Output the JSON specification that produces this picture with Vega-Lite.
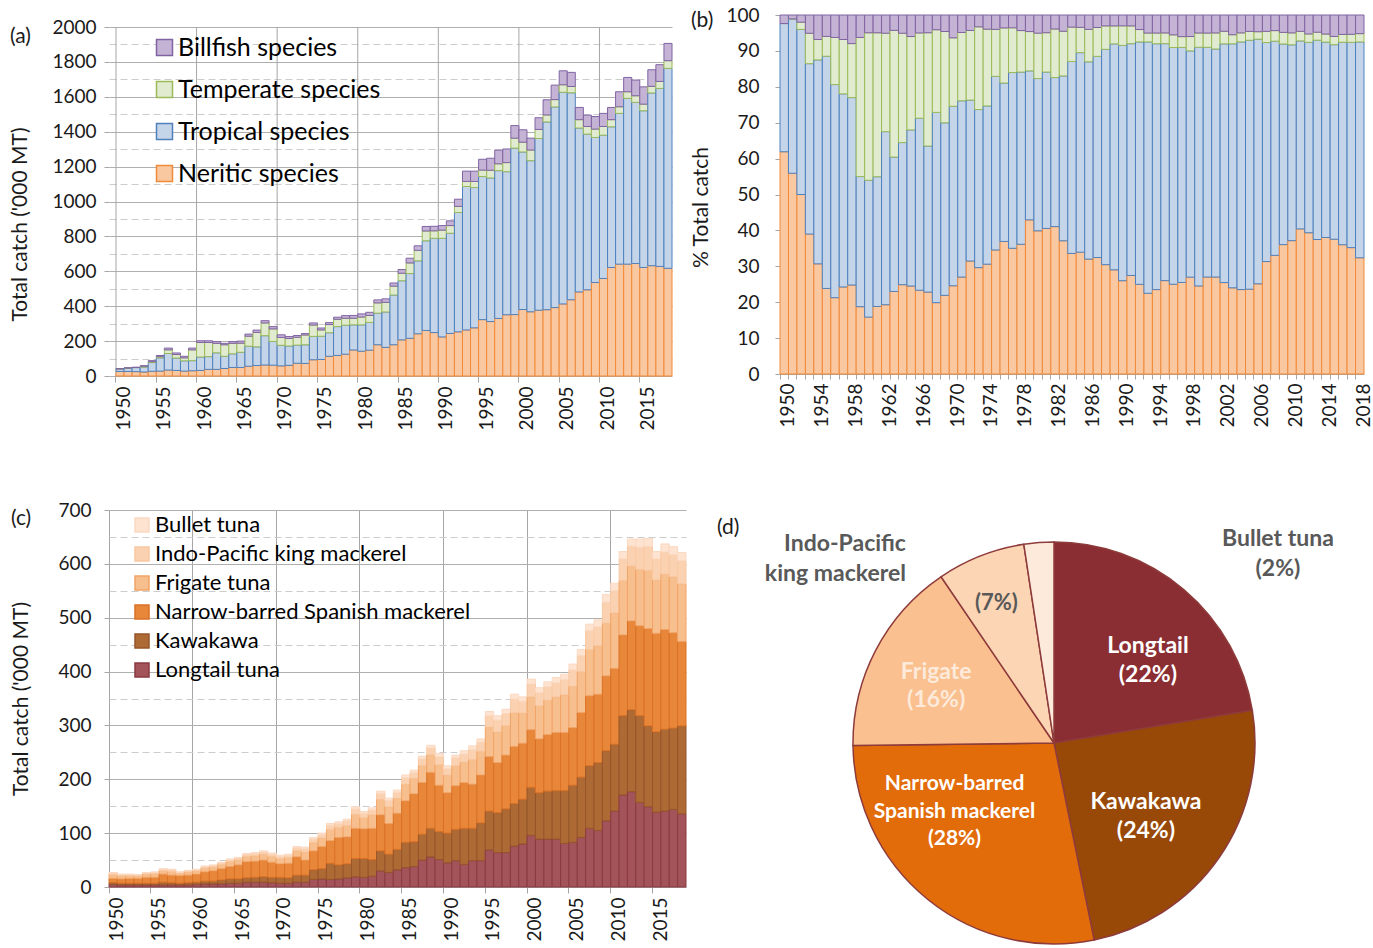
{
"$schema": "https://vega.github.io/schema/vega-lite/v6.json",
"padding": {"left": 9, "top": 6, "right": 0, "bottom": 0},
"datasets": {
"rankA": [{"species": "Neritic species", "rank": 1}, {"species": "Tropical species", "rank": 2}, {"species": "Temperate species", "rank": 3}, {"species": "Billfish species", "rank": 4}],
"rankC": [{"species": "Longtail tuna", "rank": 1}, {"species": "Kawakawa", "rank": 2}, {"species": "Narrow-barred Spanish mackerel", "rank": 3}, {"species": "Frigate tuna", "rank": 4}, {"species": "Indo-Pacific king mackerel", "rank": 5}, {"species": "Bullet tuna", "rank": 6}],
"decades": [{"year": 1950, "catch": 0, "top": 2000}, {"year": 1960, "catch": 0, "top": 2000}, {"year": 1970, "catch": 0, "top": 2000}, {"year": 1980, "catch": 0, "top": 2000}, {"year": 1990, "catch": 0, "top": 2000}, {"year": 2000, "catch": 0, "top": 2000}, {"year": 2010, "catch": 0, "top": 2000}],
"A": [
{"year":1950,"Neritic species":26,"Tropical species":15,"Temperate species":0,"Billfish species":1},
{"year":1951,"Neritic species":26,"Tropical species":20,"Temperate species":0,"Billfish species":0.5},
{"year":1952,"Neritic species":25,"Tropical species":23,"Temperate species":1,"Billfish species":1},
{"year":1953,"Neritic species":23,"Tropical species":28,"Temperate species":5,"Billfish species":3},
{"year":1954,"Neritic species":27,"Tropical species":50,"Temperate species":5,"Billfish species":6},
{"year":1955,"Neritic species":28,"Tropical species":76,"Temperate species":6.5,"Billfish species":7},
{"year":1956,"Neritic species":34,"Tropical species":95,"Temperate species":21,"Billfish species":10},
{"year":1957,"Neritic species":32,"Tropical species":71,"Temperate species":20,"Billfish species":9},
{"year":1958,"Neritic species":28,"Tropical species":59,"Temperate species":17,"Billfish species":9},
{"year":1959,"Neritic species":30,"Tropical species":58,"Temperate species":62,"Billfish species":10},
{"year":1960,"Neritic species":32,"Tropical species":77,"Temperate species":83,"Billfish species":10},
{"year":1961,"Neritic species":38,"Tropical species":73,"Temperate species":81,"Billfish species":10},
{"year":1962,"Neritic species":38,"Tropical species":95,"Temperate species":54,"Billfish species":10},
{"year":1963,"Neritic species":43,"Tropical species":70,"Temperate species":66,"Billfish species":8},
{"year":1964,"Neritic species":49,"Tropical species":78,"Temperate species":60,"Billfish species":10},
{"year":1965,"Neritic species":49,"Tropical species":87,"Temperate species":52,"Billfish species":12},
{"year":1966,"Neritic species":56,"Tropical species":115,"Temperate species":57,"Billfish species":12},
{"year":1967,"Neritic species":60,"Tropical species":107,"Temperate species":83,"Billfish species":13},
{"year":1968,"Neritic species":63,"Tropical species":168,"Temperate species":73,"Billfish species":13},
{"year":1969,"Neritic species":62,"Tropical species":136,"Temperate species":72,"Billfish species":13},
{"year":1970,"Neritic species":58,"Tropical species":118,"Temperate species":45,"Billfish species":15},
{"year":1971,"Neritic species":61,"Tropical species":111,"Temperate species":43,"Billfish species":11},
{"year":1972,"Neritic species":73,"Tropical species":104,"Temperate species":45,"Billfish species":10},
{"year":1973,"Neritic species":72,"Tropical species":107,"Temperate species":56,"Billfish species":8},
{"year":1974,"Neritic species":93,"Tropical species":134,"Temperate species":65,"Billfish species":12},
{"year":1975,"Neritic species":95,"Tropical species":133,"Temperate species":36,"Billfish species":11},
{"year":1976,"Neritic species":113,"Tropical species":135,"Temperate species":47,"Billfish species":11},
{"year":1977,"Neritic species":118,"Tropical species":165,"Temperate species":42,"Billfish species":12},
{"year":1978,"Neritic species":125,"Tropical species":166,"Temperate species":40,"Billfish species":15},
{"year":1979,"Neritic species":149,"Tropical species":144,"Temperate species":38,"Billfish species":16},
{"year":1980,"Neritic species":142,"Tropical species":151,"Temperate species":45,"Billfish species":18},
{"year":1981,"Neritic species":148,"Tropical species":159,"Temperate species":40,"Billfish species":18},
{"year":1982,"Neritic species":179,"Tropical species":181,"Temperate species":59,"Billfish species":17},
{"year":1983,"Neritic species":164,"Tropical species":203,"Temperate species":55,"Billfish species":20},
{"year":1984,"Neritic species":179,"Tropical species":285,"Temperate species":51,"Billfish species":18},
{"year":1985,"Neritic species":207,"Tropical species":339,"Temperate species":43,"Billfish species":21},
{"year":1986,"Neritic species":216,"Tropical species":371,"Temperate species":61,"Billfish species":27},
{"year":1987,"Neritic species":242,"Tropical species":418,"Temperate species":60,"Billfish species":26},
{"year":1988,"Neritic species":261,"Tropical species":514,"Temperate species":56,"Billfish species":26},
{"year":1989,"Neritic species":249,"Tropical species":540,"Temperate species":43,"Billfish species":26},
{"year":1990,"Neritic species":224,"Tropical species":565,"Temperate species":47,"Billfish species":26},
{"year":1991,"Neritic species":244,"Tropical species":574,"Temperate species":44,"Billfish species":27},
{"year":1992,"Neritic species":253,"Tropical species":684,"Temperate species":35,"Billfish species":41},
{"year":1993,"Neritic species":264,"Tropical species":822,"Temperate species":29,"Billfish species":59},
{"year":1994,"Neritic species":276,"Tropical species":804,"Temperate species":35,"Billfish species":59},
{"year":1995,"Neritic species":323,"Tropical species":820,"Temperate species":37,"Billfish species":62},
{"year":1996,"Neritic species":312,"Tropical species":823,"Temperate species":44,"Billfish species":69},
{"year":1997,"Neritic species":330,"Tropical species":847,"Temperate species":39,"Billfish species":78},
{"year":1998,"Neritic species":351,"Tropical species":820,"Temperate species":52,"Billfish species":78},
{"year":1999,"Neritic species":352,"Tropical species":954,"Temperate species":57,"Billfish species":72},
{"year":2000,"Neritic species":381,"Tropical species":903,"Temperate species":56,"Billfish species":71},
{"year":2001,"Neritic species":368,"Tropical species":866,"Temperate species":61,"Billfish species":68},
{"year":2002,"Neritic species":377,"Tropical species":984,"Temperate species":52,"Billfish species":67},
{"year":2003,"Neritic species":380,"Tropical species":1076,"Temperate species":40,"Billfish species":87},
{"year":2004,"Neritic species":392,"Tropical species":1150,"Temperate species":42,"Billfish species":83},
{"year":2005,"Neritic species":413,"Tropical species":1213,"Temperate species":43,"Billfish species":80},
{"year":2006,"Neritic species":437,"Tropical species":1186,"Temperate species":36,"Billfish species":81},
{"year":2007,"Neritic species":482,"Tropical species":939,"Temperate species":48,"Billfish species":70},
{"year":2008,"Neritic species":494,"Tropical species":892,"Temperate species":44,"Billfish species":65},
{"year":2009,"Neritic species":536,"Tropical species":831,"Temperate species":48,"Billfish species":72},
{"year":2010,"Neritic species":559,"Tropical species":821,"Temperate species":50,"Billfish species":75},
{"year":2011,"Neritic species":622,"Tropical species":806,"Temperate species":41,"Billfish species":70},
{"year":2012,"Neritic species":641,"Tropical species":864,"Temperate species":38,"Billfish species":86},
{"year":2013,"Neritic species":641,"Tropical species":950,"Temperate species":38,"Billfish species":82},
{"year":2014,"Neritic species":645,"Tropical species":923,"Temperate species":38,"Billfish species":90},
{"year":2015,"Neritic species":622,"Tropical species":898,"Temperate species":38,"Billfish species":99},
{"year":2016,"Neritic species":632,"Tropical species":990,"Temperate species":38,"Billfish species":95},
{"year":2017,"Neritic species":628,"Tropical species":1020,"Temperate species":40,"Billfish species":96},
{"year":2018,"Neritic species":617,"Tropical species":1146,"Temperate species":44,"Billfish species":99}
],
"C": [
{"year":1950,"Longtail tuna":5,"Kawakawa":3,"Narrow-barred Spanish mackerel":8,"Frigate tuna":7,"Indo-Pacific king mackerel":3,"Bullet tuna":1},
{"year":1951,"Longtail tuna":4,"Kawakawa":3,"Narrow-barred Spanish mackerel":8,"Frigate tuna":6,"Indo-Pacific king mackerel":2,"Bullet tuna":1},
{"year":1952,"Longtail tuna":4,"Kawakawa":3,"Narrow-barred Spanish mackerel":9,"Frigate tuna":5,"Indo-Pacific king mackerel":2,"Bullet tuna":1},
{"year":1953,"Longtail tuna":4,"Kawakawa":3,"Narrow-barred Spanish mackerel":9,"Frigate tuna":4.5,"Indo-Pacific king mackerel":2,"Bullet tuna":0.5},
{"year":1954,"Longtail tuna":4,"Kawakawa":3,"Narrow-barred Spanish mackerel":11,"Frigate tuna":6,"Indo-Pacific king mackerel":2,"Bullet tuna":1},
{"year":1955,"Longtail tuna":4,"Kawakawa":3,"Narrow-barred Spanish mackerel":11,"Frigate tuna":6.5,"Indo-Pacific king mackerel":2.5,"Bullet tuna":1},
{"year":1956,"Longtail tuna":4,"Kawakawa":5,"Narrow-barred Spanish mackerel":15,"Frigate tuna":6.5,"Indo-Pacific king mackerel":2.5,"Bullet tuna":1},
{"year":1957,"Longtail tuna":4,"Kawakawa":4,"Narrow-barred Spanish mackerel":14,"Frigate tuna":7,"Indo-Pacific king mackerel":3,"Bullet tuna":1},
{"year":1958,"Longtail tuna":4,"Kawakawa":3,"Narrow-barred Spanish mackerel":14,"Frigate tuna":4.5,"Indo-Pacific king mackerel":2,"Bullet tuna":0.5},
{"year":1959,"Longtail tuna":4,"Kawakawa":4,"Narrow-barred Spanish mackerel":14,"Frigate tuna":6,"Indo-Pacific king mackerel":2,"Bullet tuna":1},
{"year":1960,"Longtail tuna":5,"Kawakawa":4,"Narrow-barred Spanish mackerel":15,"Frigate tuna":6,"Indo-Pacific king mackerel":2,"Bullet tuna":1},
{"year":1961,"Longtail tuna":6,"Kawakawa":5,"Narrow-barred Spanish mackerel":17,"Frigate tuna":7,"Indo-Pacific king mackerel":3,"Bullet tuna":1},
{"year":1962,"Longtail tuna":6,"Kawakawa":5,"Narrow-barred Spanish mackerel":19,"Frigate tuna":7,"Indo-Pacific king mackerel":3,"Bullet tuna":1},
{"year":1963,"Longtail tuna":6,"Kawakawa":7,"Narrow-barred Spanish mackerel":21,"Frigate tuna":8,"Indo-Pacific king mackerel":3,"Bullet tuna":1},
{"year":1964,"Longtail tuna":7,"Kawakawa":8,"Narrow-barred Spanish mackerel":23,"Frigate tuna":9,"Indo-Pacific king mackerel":4,"Bullet tuna":1},
{"year":1965,"Longtail tuna":7,"Kawakawa":8,"Narrow-barred Spanish mackerel":26,"Frigate tuna":9,"Indo-Pacific king mackerel":4,"Bullet tuna":1},
{"year":1966,"Longtail tuna":9,"Kawakawa":8,"Narrow-barred Spanish mackerel":30,"Frigate tuna":10,"Indo-Pacific king mackerel":4,"Bullet tuna":1},
{"year":1967,"Longtail tuna":9,"Kawakawa":9,"Narrow-barred Spanish mackerel":30,"Frigate tuna":10,"Indo-Pacific king mackerel":4,"Bullet tuna":2},
{"year":1968,"Longtail tuna":9,"Kawakawa":10,"Narrow-barred Spanish mackerel":31,"Frigate tuna":11,"Indo-Pacific king mackerel":4,"Bullet tuna":2},
{"year":1969,"Longtail tuna":8,"Kawakawa":10,"Narrow-barred Spanish mackerel":28,"Frigate tuna":11,"Indo-Pacific king mackerel":4,"Bullet tuna":2},
{"year":1970,"Longtail tuna":7,"Kawakawa":11,"Narrow-barred Spanish mackerel":25,"Frigate tuna":10,"Indo-Pacific king mackerel":4,"Bullet tuna":2},
{"year":1971,"Longtail tuna":7,"Kawakawa":10,"Narrow-barred Spanish mackerel":27,"Frigate tuna":11,"Indo-Pacific king mackerel":4,"Bullet tuna":2},
{"year":1972,"Longtail tuna":9,"Kawakawa":13,"Narrow-barred Spanish mackerel":34,"Frigate tuna":12,"Indo-Pacific king mackerel":5,"Bullet tuna":2},
{"year":1973,"Longtail tuna":9,"Kawakawa":13,"Narrow-barred Spanish mackerel":28,"Frigate tuna":15,"Indo-Pacific king mackerel":6,"Bullet tuna":3},
{"year":1974,"Longtail tuna":14,"Kawakawa":18,"Narrow-barred Spanish mackerel":35,"Frigate tuna":16,"Indo-Pacific king mackerel":6,"Bullet tuna":3},
{"year":1975,"Longtail tuna":15,"Kawakawa":19,"Narrow-barred Spanish mackerel":41,"Frigate tuna":16,"Indo-Pacific king mackerel":6,"Bullet tuna":3},
{"year":1976,"Longtail tuna":14,"Kawakawa":30,"Narrow-barred Spanish mackerel":42,"Frigate tuna":21,"Indo-Pacific king mackerel":8,"Bullet tuna":3},
{"year":1977,"Longtail tuna":15,"Kawakawa":26,"Narrow-barred Spanish mackerel":51,"Frigate tuna":19,"Indo-Pacific king mackerel":7,"Bullet tuna":3},
{"year":1978,"Longtail tuna":17,"Kawakawa":26,"Narrow-barred Spanish mackerel":50,"Frigate tuna":21,"Indo-Pacific king mackerel":9,"Bullet tuna":3},
{"year":1979,"Longtail tuna":19,"Kawakawa":34,"Narrow-barred Spanish mackerel":56,"Frigate tuna":26,"Indo-Pacific king mackerel":10,"Bullet tuna":4},
{"year":1980,"Longtail tuna":18,"Kawakawa":35,"Narrow-barred Spanish mackerel":55,"Frigate tuna":21,"Indo-Pacific king mackerel":8,"Bullet tuna":3},
{"year":1981,"Longtail tuna":20,"Kawakawa":31,"Narrow-barred Spanish mackerel":58,"Frigate tuna":25,"Indo-Pacific king mackerel":9,"Bullet tuna":4},
{"year":1982,"Longtail tuna":30,"Kawakawa":37,"Narrow-barred Spanish mackerel":67,"Frigate tuna":29,"Indo-Pacific king mackerel":11,"Bullet tuna":4},
{"year":1983,"Longtail tuna":27,"Kawakawa":34,"Narrow-barred Spanish mackerel":57,"Frigate tuna":31,"Indo-Pacific king mackerel":12,"Bullet tuna":4},
{"year":1984,"Longtail tuna":32,"Kawakawa":38,"Narrow-barred Spanish mackerel":67,"Frigate tuna":28,"Indo-Pacific king mackerel":11,"Bullet tuna":4},
{"year":1985,"Longtail tuna":36,"Kawakawa":47,"Narrow-barred Spanish mackerel":77,"Frigate tuna":31,"Indo-Pacific king mackerel":12,"Bullet tuna":5},
{"year":1986,"Longtail tuna":38,"Kawakawa":46,"Narrow-barred Spanish mackerel":89,"Frigate tuna":29,"Indo-Pacific king mackerel":11,"Bullet tuna":4},
{"year":1987,"Longtail tuna":50,"Kawakawa":48,"Narrow-barred Spanish mackerel":96,"Frigate tuna":32,"Indo-Pacific king mackerel":12,"Bullet tuna":5},
{"year":1988,"Longtail tuna":56,"Kawakawa":53,"Narrow-barred Spanish mackerel":104,"Frigate tuna":33,"Indo-Pacific king mackerel":12,"Bullet tuna":5},
{"year":1989,"Longtail tuna":51,"Kawakawa":52,"Narrow-barred Spanish mackerel":86,"Frigate tuna":38,"Indo-Pacific king mackerel":15,"Bullet tuna":6},
{"year":1990,"Longtail tuna":45,"Kawakawa":55,"Narrow-barred Spanish mackerel":75,"Frigate tuna":33,"Indo-Pacific king mackerel":12,"Bullet tuna":5},
{"year":1991,"Longtail tuna":49,"Kawakawa":58,"Narrow-barred Spanish mackerel":81,"Frigate tuna":37,"Indo-Pacific king mackerel":15,"Bullet tuna":5},
{"year":1992,"Longtail tuna":42,"Kawakawa":67,"Narrow-barred Spanish mackerel":85,"Frigate tuna":38,"Indo-Pacific king mackerel":15,"Bullet tuna":6},
{"year":1993,"Longtail tuna":49,"Kawakawa":60,"Narrow-barred Spanish mackerel":82,"Frigate tuna":46,"Indo-Pacific king mackerel":18,"Bullet tuna":7},
{"year":1994,"Longtail tuna":49,"Kawakawa":70,"Narrow-barred Spanish mackerel":89,"Frigate tuna":44,"Indo-Pacific king mackerel":17,"Bullet tuna":6},
{"year":1995,"Longtail tuna":69,"Kawakawa":72,"Narrow-barred Spanish mackerel":101,"Frigate tuna":55,"Indo-Pacific king mackerel":21,"Bullet tuna":8},
{"year":1996,"Longtail tuna":64,"Kawakawa":74,"Narrow-barred Spanish mackerel":93,"Frigate tuna":57,"Indo-Pacific king mackerel":22,"Bullet tuna":8},
{"year":1997,"Longtail tuna":64,"Kawakawa":81,"Narrow-barred Spanish mackerel":100,"Frigate tuna":55,"Indo-Pacific king mackerel":22,"Bullet tuna":8},
{"year":1998,"Longtail tuna":76,"Kawakawa":79,"Narrow-barred Spanish mackerel":106,"Frigate tuna":63,"Indo-Pacific king mackerel":25,"Bullet tuna":9},
{"year":1999,"Longtail tuna":80,"Kawakawa":83,"Narrow-barred Spanish mackerel":104,"Frigate tuna":56,"Indo-Pacific king mackerel":22,"Bullet tuna":8},
{"year":2000,"Longtail tuna":96,"Kawakawa":89,"Narrow-barred Spanish mackerel":107,"Frigate tuna":61,"Indo-Pacific king mackerel":24,"Bullet tuna":9},
{"year":2001,"Longtail tuna":89,"Kawakawa":86,"Narrow-barred Spanish mackerel":100,"Frigate tuna":62,"Indo-Pacific king mackerel":24,"Bullet tuna":9},
{"year":2002,"Longtail tuna":89,"Kawakawa":89,"Narrow-barred Spanish mackerel":105,"Frigate tuna":64,"Indo-Pacific king mackerel":25,"Bullet tuna":9},
{"year":2003,"Longtail tuna":89,"Kawakawa":90,"Narrow-barred Spanish mackerel":108,"Frigate tuna":66,"Indo-Pacific king mackerel":26,"Bullet tuna":10},
{"year":2004,"Longtail tuna":81,"Kawakawa":98,"Narrow-barred Spanish mackerel":108,"Frigate tuna":70,"Indo-Pacific king mackerel":28,"Bullet tuna":10},
{"year":2005,"Longtail tuna":83,"Kawakawa":106,"Narrow-barred Spanish mackerel":107,"Frigate tuna":77,"Indo-Pacific king mackerel":30,"Bullet tuna":11},
{"year":2006,"Longtail tuna":92,"Kawakawa":112,"Narrow-barred Spanish mackerel":120,"Frigate tuna":76,"Indo-Pacific king mackerel":30,"Bullet tuna":11},
{"year":2007,"Longtail tuna":109,"Kawakawa":116,"Narrow-barred Spanish mackerel":130,"Frigate tuna":86,"Indo-Pacific king mackerel":35,"Bullet tuna":12},
{"year":2008,"Longtail tuna":105,"Kawakawa":126,"Narrow-barred Spanish mackerel":127,"Frigate tuna":90,"Indo-Pacific king mackerel":35,"Bullet tuna":13},
{"year":2009,"Longtail tuna":123,"Kawakawa":130,"Narrow-barred Spanish mackerel":139,"Frigate tuna":98,"Indo-Pacific king mackerel":39,"Bullet tuna":14},
{"year":2010,"Longtail tuna":141,"Kawakawa":124,"Narrow-barred Spanish mackerel":141,"Frigate tuna":103,"Indo-Pacific king mackerel":41,"Bullet tuna":14},
{"year":2011,"Longtail tuna":171,"Kawakawa":147,"Narrow-barred Spanish mackerel":150,"Frigate tuna":101,"Indo-Pacific king mackerel":40,"Bullet tuna":14},
{"year":2012,"Longtail tuna":177,"Kawakawa":152,"Narrow-barred Spanish mackerel":165,"Frigate tuna":102,"Indo-Pacific king mackerel":37,"Bullet tuna":13},
{"year":2013,"Longtail tuna":157,"Kawakawa":161,"Narrow-barred Spanish mackerel":167,"Frigate tuna":105,"Indo-Pacific king mackerel":41,"Bullet tuna":15},
{"year":2014,"Longtail tuna":149,"Kawakawa":150,"Narrow-barred Spanish mackerel":181,"Frigate tuna":108,"Indo-Pacific king mackerel":44,"Bullet tuna":15},
{"year":2015,"Longtail tuna":139,"Kawakawa":149,"Narrow-barred Spanish mackerel":183,"Frigate tuna":99,"Indo-Pacific king mackerel":39,"Bullet tuna":14},
{"year":2016,"Longtail tuna":141,"Kawakawa":152,"Narrow-barred Spanish mackerel":185,"Frigate tuna":103,"Indo-Pacific king mackerel":41,"Bullet tuna":15},
{"year":2017,"Longtail tuna":144,"Kawakawa":151,"Narrow-barred Spanish mackerel":177,"Frigate tuna":104,"Indo-Pacific king mackerel":41,"Bullet tuna":15},
{"year":2018,"Longtail tuna":136,"Kawakawa":163,"Narrow-barred Spanish mackerel":157,"Frigate tuna":107,"Indo-Pacific king mackerel":43,"Bullet tuna":15}
],
"D": [
{"species": "Longtail tuna", "pct": 22.4, "inner": "Longtail\n(22%)", "outL": "", "outR": ""},
{"species": "Kawakawa", "pct": 24.4, "inner": "Kawakawa\n(24%)", "outL": "", "outR": ""},
{"species": "Narrow-barred Spanish mackerel", "pct": 28.0, "inner": "Narrow-barred\nSpanish mackerel\n(28%)", "outL": "", "outR": ""},
{"species": "Frigate tuna", "pct": 15.7, "inner": "Frigate\n(16%)", "outL": "", "outR": ""},
{"species": "Indo-Pacific king mackerel", "pct": 7.1, "inner": "(7%)", "outL": "Indo-Pacific\nking mackerel", "outR": ""},
{"species": "Bullet tuna", "pct": 2.4, "inner": "", "outL": "", "outR": "Bullet tuna\n(2%)"}
]
},
"vconcat": [
{
"bounds": "flush",
"spacing": 108,
"resolve": {"scale": {"fill": "independent", "stroke": "independent", "color": "independent", "x": "independent", "y": "independent"}},
"hconcat": [
{
"width": 563, "height": 361,
"title": {"text": "(a)", "anchor": "start", "frame": "bounds", "orient": "top", "offset": -32, "fontSize": 21},
"encoding": {
"x": {"field": "year", "type": "ordinal", "scale": {"paddingInner": 0, "paddingOuter": 0.434, "align": 1},
"axis": {"title": null, "values": [1950,1955,1960,1965,1970,1975,1980,1985,1990,1995,2000,2005,2010,2015], "bandPosition": 0, "labelAngle": -90, "labelOffset": 4, "labelPadding": 4, "tickSize": 6, "domain": false, "grid": false, "labelOverlap": false}},
"y": {"field": "catch", "type": "quantitative", "scale": {"domain": [0, 2068.8], "nice": false},
"axis": {"title": "Total catch ('000 MT)", "titleFontSize": 21, "titleY": 209, "values": [0,100,200,300,400,500,600,700,800,900,1000,1100,1200,1300,1400,1500,1600,1700,1800,1900,2000], "format": "d", "labelExpr": "datum.value % 200 === 0 ? datum.label : ''", "labelOverlap": false, "domain": false, "tickSize": 5, "tickOpacity": {"condition": {"test": "datum.value % 200 === 0", "value": 1}, "value": 0}, "labelPadding": 8, "titlePadding": 21, "grid": true, "gridDash": {"condition": {"test": "datum.value % 200 !== 0", "value": [7, 4]}, "value": []}, "gridColor": {"condition": {"test": "datum.value % 200 !== 0", "value": "#CCCCCC"}, "value": "#AFAFAF"}}}
},
"layer": [
{
"data": {"name": "decades"},
"mark": {"type": "rule", "color": "#A6A6A6", "strokeWidth": 1},
"encoding": {
"x": {"field": "year", "type": "ordinal", "bandPosition": 0},
"y2": {"field": "top"}
}
},
{
"data": {"name": "A"},
"transform": [
{"fold": ["Neritic species", "Tropical species", "Temperate species", "Billfish species"], "as": ["species", "catch"]},
{"lookup": "species", "from": {"data": {"name": "rankA"}, "key": "species", "fields": ["rank"]}}
],
"mark": {"type": "bar", "strokeWidth": 1},
"encoding": {
"y": {"field": "catch", "type": "quantitative", "stack": "zero"},
"fill": {"field": "species", "type": "nominal", "scale": {"domain": ["Billfish species", "Temperate species", "Tropical species", "Neritic species"], "range": ["#C5B3D6", "#E1EBCF", "#C5D5E9", "#FAC8A0"]},
"legend": {"title": null, "orient": "none", "legendX": 43, "legendY": 20, "symbolType": "square", "symbolSize": 256, "symbolStrokeWidth": 1.5, "labelFontSize": 25, "labelColor": "#000000", "rowPadding": 16, "labelOffset": 1, "padding": 0, "labelLimit": 500}},
"stroke": {"field": "species", "type": "nominal", "scale": {"domain": ["Billfish species", "Temperate species", "Tropical species", "Neritic species"], "range": ["#8064A2", "#9BBB59", "#4F81BD", "#F08A3A"]},
"legend": {"title": null, "orient": "none", "legendX": 43, "legendY": 20, "symbolType": "square", "symbolSize": 256, "symbolStrokeWidth": 1.5, "labelFontSize": 25, "labelColor": "#000000", "rowPadding": 16, "labelOffset": 1, "padding": 0, "labelLimit": 500}},
"order": {"field": "rank", "type": "quantitative"}
}
}
]
},
{
"width": 584, "height": 359,
"data": {"name": "A"},
"transform": [
{"fold": ["Neritic species", "Tropical species", "Temperate species", "Billfish species"], "as": ["species", "catch"]},
{"lookup": "species", "from": {"data": {"name": "rankA"}, "key": "species", "fields": ["rank"]}}
],
"title": {"text": "(b)", "anchor": "start", "frame": "bounds", "orient": "top", "offset": -25, "fontSize": 21},
"mark": {"type": "bar", "strokeWidth": 1},
"encoding": {
"x": {"field": "year", "type": "ordinal", "scale": {"paddingInner": 0, "paddingOuter": 0},
"axis": {"title": null, "bandPosition": 0, "labelAngle": -90, "labelOffset": 4, "labelPadding": 4, "tickSize": 5, "labelExpr": "(datum.value - 1950) % 4 === 0 ? datum.label : ''", "grid": false}},
"y": {"field": "catch", "type": "quantitative", "stack": "normalize", "scale": {"domain": [0, 1], "nice": false},
"axis": {"title": "% Total catch", "titleFontSize": 21, "titleY": 192, "values": [0,0.1,0.2,0.3,0.4,0.5,0.6,0.7,0.8,0.9,1], "labelExpr": "round(datum.value * 100)", "domain": true, "tickSize": 5, "labelPadding": 16, "titlePadding": 14, "grid": false}},
"fill": {"field": "species", "type": "nominal", "scale": {"domain": ["Billfish species", "Temperate species", "Tropical species", "Neritic species"], "range": ["#C5B3D6", "#E1EBCF", "#C5D5E9", "#FAC8A0"]}, "legend": null},
"stroke": {"field": "species", "type": "nominal", "scale": {"domain": ["Billfish species", "Temperate species", "Tropical species", "Neritic species"], "range": ["#8064A2", "#9BBB59", "#4F81BD", "#F08A3A"]}, "legend": null},
"order": {"field": "rank", "type": "quantitative"}
}
}
]
},
{
"bounds": "flush",
"spacing": 50,
"resolve": {"scale": {"fill": "independent", "stroke": "independent", "color": "independent", "x": "independent", "y": "independent"}},
"hconcat": [
{
"width": 577, "height": 377,
"data": {"name": "C"},
"transform": [
{"fold": ["Longtail tuna", "Kawakawa", "Narrow-barred Spanish mackerel", "Frigate tuna", "Indo-Pacific king mackerel", "Bullet tuna"], "as": ["species", "catch"]},
{"lookup": "species", "from": {"data": {"name": "rankC"}, "key": "species", "fields": ["rank"]}}
],
"title": {"text": "(c)", "anchor": "start", "frame": "bounds", "orient": "top", "offset": -28, "fontSize": 21},
"mark": {"type": "bar", "strokeWidth": 1},
"encoding": {
"x": {"field": "year", "type": "ordinal", "scale": {"paddingInner": 0, "paddingOuter": 0},
"axis": {"title": null, "values": [1950,1955,1960,1965,1970,1975,1980,1985,1990,1995,2000,2005,2010,2015], "bandPosition": 0, "labelAngle": -90, "labelOffset": 4, "labelPadding": 4, "tickSize": 6, "grid": true, "gridColor": "#A6A6A6", "gridOpacity": {"condition": {"test": "datum.value % 10 === 0", "value": 1}, "value": 0}}},
"y": {"field": "catch", "type": "quantitative", "stack": "zero", "scale": {"domain": [0, 700], "nice": false},
"axis": {"title": "Total catch ('000 MT)", "titleFontSize": 21, "values": [0,50,100,150,200,250,300,350,400,450,500,550,600,650,700], "format": "d", "labelExpr": "datum.value % 100 === 0 ? datum.label : ''", "domain": false, "tickSize": 5, "tickOpacity": {"condition": {"test": "datum.value % 100 === 0", "value": 1}, "value": 0}, "labelPadding": 13, "titlePadding": 26, "grid": true, "gridDash": {"condition": {"test": "datum.value % 100 !== 0", "value": [7, 4]}, "value": []}, "gridColor": {"condition": {"test": "datum.value % 100 !== 0", "value": "#CCCCCC"}, "value": "#AFAFAF"}}},
"fill": {"field": "species", "type": "nominal", "scale": {"domain": ["Bullet tuna", "Indo-Pacific king mackerel", "Frigate tuna", "Narrow-barred Spanish mackerel", "Kawakawa", "Longtail tuna"], "range": ["#FDE3D0", "#FBD2B1", "#F8BF8E", "#E8873A", "#AE6A35", "#A3535A"]},
"legend": {"title": null, "orient": "none", "legendX": 22, "legendY": 4, "symbolType": "square", "symbolSize": 196, "symbolStrokeWidth": 1.5, "labelFontSize": 22, "labelColor": "#000000", "rowPadding": 7, "labelOffset": 2, "padding": 0, "labelLimit": 500}},
"stroke": {"field": "species", "type": "nominal", "scale": {"domain": ["Bullet tuna", "Indo-Pacific king mackerel", "Frigate tuna", "Narrow-barred Spanish mackerel", "Kawakawa", "Longtail tuna"], "range": ["#FBD9C2", "#F8C8A2", "#F0A467", "#DA7125", "#96552A", "#8B3A40"]},
"legend": {"title": null, "orient": "none", "legendX": 22, "legendY": 4, "symbolType": "square", "symbolSize": 196, "symbolStrokeWidth": 1.5, "labelFontSize": 22, "labelColor": "#000000", "rowPadding": 7, "labelOffset": 2, "padding": 0, "labelLimit": 500}},
"order": {"field": "rank", "type": "quantitative"}
}
},
{
"width": 636, "height": 466,
"data": {"name": "D"},
"transform": [
{"lookup": "species", "from": {"data": {"name": "rankC"}, "key": "species", "fields": ["rank"]}}
],
"title": {"text": "(d)", "anchor": "start", "frame": "group", "orient": "top", "offset": -28, "dx": -19, "fontSize": 21},
"encoding": {
"theta": {"field": "pct", "type": "quantitative", "stack": true},
"order": {"field": "rank", "type": "quantitative"}
},
"layer": [
{"mark": {"type": "arc", "outerRadius": 201, "stroke": "#8E3B3B", "strokeWidth": 1.5},
"encoding": {"fill": {"field": "species", "type": "nominal", "scale": {"domain": ["Longtail tuna", "Kawakawa", "Narrow-barred Spanish mackerel", "Frigate tuna", "Indo-Pacific king mackerel", "Bullet tuna"], "range": ["#8B2E33", "#984807", "#E36C0A", "#FAC090", "#FCD5B5", "#FDEADA"]}, "legend": null}}},
{"mark": {"type": "text", "radius": 125, "dx": 13, "dy": -2, "fontWeight": "bold", "fontSize": 23, "color": "#FFFFFF", "lineBreak": "\n", "lineHeight": 29},
"encoding": {"text": {"condition": {"test": "datum.species === 'Longtail tuna'", "field": "inner"}, "value": ""}}},
{"mark": {"type": "text", "radius": 125, "dx": -11, "dy": -12, "fontWeight": "bold", "fontSize": 23, "color": "#FFFFFF", "lineBreak": "\n", "lineHeight": 29},
"encoding": {"text": {"condition": {"test": "datum.species === 'Kawakawa'", "field": "inner"}, "value": ""}}},
{"mark": {"type": "text", "radius": 125, "dx": -21, "dy": -56, "fontWeight": "bold", "fontSize": 21, "color": "#FFFFFF", "lineBreak": "\n", "lineHeight": 27.5},
"encoding": {"text": {"condition": {"test": "datum.species === 'Narrow-barred Spanish mackerel'", "field": "inner"}, "value": ""}}},
{"mark": {"type": "text", "radius": 125, "dx": -7, "dy": -13, "fontWeight": "bold", "fontSize": 23, "color": "#FDEADA", "lineBreak": "\n", "lineHeight": 28},
"encoding": {"text": {"condition": {"test": "datum.species === 'Frigate tuna'", "field": "inner"}, "value": ""}}},
{"mark": {"type": "text", "radius": 125, "dx": -12, "dy": -24, "fontWeight": "bold", "fontSize": 22, "color": "#595959"},
"encoding": {"text": {"condition": {"test": "datum.species === 'Indo-Pacific king mackerel'", "field": "inner"}, "value": ""}}},
{"mark": {"type": "text", "radius": 200, "align": "right", "dx": -75, "dy": -13, "fontWeight": "bold", "fontSize": 23, "color": "#595959", "lineBreak": "\n", "lineHeight": 30},
"encoding": {"text": {"field": "outL"}}},
{"mark": {"type": "text", "radius": 200, "align": "center", "dx": 239, "dy": -5, "fontWeight": "bold", "fontSize": 23, "color": "#595959", "lineBreak": "\n", "lineHeight": 30},
"encoding": {"text": {"field": "outR"}}}
]
}
]
}
],
"spacing": 70,
"resolve": {"scale": {"fill": "independent", "stroke": "independent", "color": "independent", "x": "independent", "y": "independent"}},
"config": {
"font": "Lato",
"view": {"stroke": null},
"axis": {"labelFont": "Lato", "titleFont": "Lato", "labelFontSize": 19, "titleFontSize": 19, "titleFontWeight": "normal", "labelColor": "#1a1a1a", "titleColor": "#1a1a1a", "domainColor": "#A6A6A6", "tickColor": "#A6A6A6", "labelOverlap": false, "labelBound": false, "labelFlush": false},
"legend": {"labelFont": "Lato", "titleFont": "Lato"},
"title": {"font": "Lato", "fontWeight": "normal", "color": "#1a1a1a"},
"text": {"font": "Lato"}
}
}
